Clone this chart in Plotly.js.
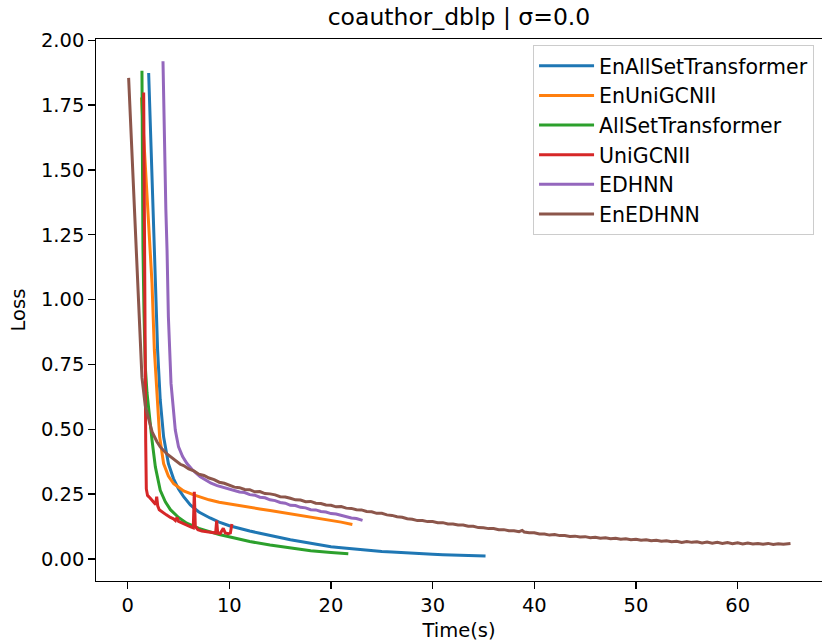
<!DOCTYPE html>
<html>
<head>
<meta charset="utf-8">
<script src="https://cdn.plot.ly/plotly-3.0.1.min.js"></script>
<style>
html,body{margin:0;padding:0;overflow:hidden;background:#fff;}
#chart{width:830px;height:642px;}
</style>
</head>
<body>
<div id="chart"></div>
<script>
var seriesNames = ["EnAllSetTransformer","EnUniGCNII","AllSetTransformer","UniGCNII","EDHNN","EnEDHNN"];
var seriesColors = ["#1f77b4","#ff7f0e","#2ca02c","#d62728","#9467bd","#8c564b"];
var yTickVals = [0,0.25,0.5,0.75,1.0,1.25,1.5,1.75,2.0];
var xTickVals = [0,10,20,30,40,50,60];

var enAllSetT = [2.06,2.35,2.65,2.72,2.94,3.2,3.53,4.0,4.5,5.0,5.5,6.16,7.0,8.1,9,10,11,12,13,14,15,16,17,18,19,20,21,22,23,24,25,26,27,28,29,30,31,32,33,34,35.2];
var enAllSetL = [1.874,1.5,1.19,1.064,0.806,0.613,0.471,0.368,0.31,0.27,0.24,0.208,0.181,0.158,0.142,0.128,0.117,0.108,0.099,0.09,0.082,0.074,0.067,0.06,0.053,0.047,0.043,0.039,0.035,0.032,0.029,0.027,0.024,0.022,0.02,0.018,0.016,0.015,0.013,0.012,0.011];

var enUniT = [1.35,1.6,1.9,2.2,2.39,2.62,2.88,3.14,3.53,4.0,4.52,5.5,6.5,8,9,10,11,12,13,14,15,16,17,18,19,20,21,22.1];
var enUniL = [1.78,1.6,1.4,1.19,1.063,0.806,0.613,0.471,0.368,0.32,0.29,0.262,0.247,0.228,0.219,0.212,0.206,0.199,0.193,0.187,0.181,0.175,0.169,0.163,0.156,0.149,0.142,0.133];

var allSetT = [1.4,1.45,1.5,1.6,1.73,1.9,2.06,2.39,2.72,3.2,3.7,4.2,5,5.8,7,8.1,9,10.4,12,14,16,18,20,21.7];
var allSetL = [1.883,1.5,1.2,0.95,0.741,0.64,0.574,0.458,0.355,0.265,0.22,0.19,0.16,0.138,0.118,0.104,0.094,0.082,0.067,0.054,0.042,0.032,0.025,0.02];

var uniT = [1.57,1.62,1.7,1.77,1.83,1.95,2.2,2.4,2.6,2.75,2.85,2.95,3.1,3.4,3.8,4.2,4.5,4.7,4.85,5.0,5.4,5.8,6.2,6.45,6.55,6.65,6.9,7.3,7.8,8.3,8.65,8.75,8.85,9.1,9.4,9.6,9.9,10.1,10.25];
var uniL = [1.799,1.3,0.8,0.45,0.27,0.245,0.235,0.226,0.215,0.21,0.24,0.205,0.19,0.18,0.17,0.16,0.155,0.148,0.16,0.145,0.137,0.13,0.124,0.12,0.259,0.125,0.113,0.108,0.104,0.101,0.1,0.148,0.1,0.098,0.118,0.1,0.097,0.1,0.135];

var edhnnT = [3.47,3.6,3.75,3.87,4.0,4.26,4.68,5.0,5.4,5.83,6.4,7.14,7.6,8.2,8.8,9.4,10,10.5,11,11.5,12,12.5,13,13.5,14,14.5,15,15.5,16,16.5,17,17.5,18,18.5,19,19.5,20,20.5,21,21.5,22,22.5,23.1];
var edhnnL = [1.919,1.6,1.35,1.19,0.934,0.677,0.497,0.432,0.395,0.368,0.342,0.317,0.306,0.292,0.283,0.276,0.268,0.265,0.258,0.256,0.248,0.246,0.238,0.236,0.228,0.225,0.218,0.215,0.207,0.206,0.199,0.197,0.19,0.189,0.183,0.181,0.175,0.173,0.167,0.164,0.158,0.156,0.149];

var enEdhnnT = [0.09,0.5,0.85,0.95,1.17,1.4,1.73,2.06,2.4,2.88,3.2,3.86,4.5,5.17,5.5,6,6.5,7,7.5,8,8.5,9,9.5,
10,10.5,11,11.5,12,12.5,13,13.5,14,14.5,15,15.5,16,16.5,17,17.5,18,18.5,19,19.5,20,20.5,21,21.5,22,22.5,23,23.5,24,24.5,25,25.5,26,26.5,27,27.5,28,28.5,29,29.5,30,30.5,31,31.5,32,32.5,33,33.5,34,34.5,35,35.5,36,36.5,37,37.5,38,38.5,38.8,39,39.5,40,40.5,41,41.5,42,42.5,43,43.5,44,44.5,45,45.5,46,46.5,47,47.5,48,48.5,49,49.5,50,50.5,51,51.5,52,52.5,53,53.5,54,54.5,55,55.5,56,56.5,57,57.5,58,58.5,59,59.5,60,60.5,61,61.5,62,62.5,63,63.5,64,64.5,65,65.2];
var enEdhnnL = [1.855,1.5,1.19,1.06,0.87,0.70,0.59,0.535,0.49,0.452,0.432,0.405,0.385,0.365,0.360,0.347,0.340,0.327,0.322,0.312,0.306,0.296,0.292,
0.286,0.277,0.275,0.268,0.267,0.259,0.260,0.252,0.251,0.247,0.240,0.239,0.234,0.228,0.227,0.221,0.222,0.215,0.214,0.208,0.207,0.201,0.202,0.196,0.195,0.190,0.189,0.183,0.182,0.176,0.176,0.170,0.168,0.163,0.161,0.155,0.153,0.148,0.148,0.144,0.144,0.140,0.140,0.135,0.135,0.131,0.131,0.126,0.126,0.121,0.120,0.117,0.117,0.113,0.113,0.109,0.109,0.105,0.110,0.104,0.101,0.101,0.096,0.096,0.092,0.094,0.090,0.090,0.087,0.088,0.085,0.086,0.082,0.084,0.080,0.082,0.078,0.080,0.076,0.078,0.074,0.076,0.072,0.074,0.070,0.072,0.068,0.070,0.066,0.068,0.064,0.067,0.064,0.066,0.062,0.065,0.061,0.064,0.060,0.063,0.059,0.062,0.058,0.061,0.058,0.060,0.057,0.060,0.056,0.059,0.057,0.058,0.060];

var xs = [enAllSetT, enUniT, allSetT, uniT, edhnnT, enEdhnnT];
var ys = [enAllSetL, enUniL, allSetL, uniL, edhnnL, enEdhnnL];

var traces = seriesNames.map(function(n,i){
  return {x: xs[i], y: ys[i], type:'scatter', mode:'lines', name:n,
          line:{color:seriesColors[i], width:3}};
});

var font = {family:'"DejaVu Sans", sans-serif', color:'#000'};
var layout = {
  width:830, height:642,
  margin:{l:96, r:8, t:39, b:61.3, pad:0},
  paper_bgcolor:'#fff', plot_bgcolor:'#fff',
  font:{family:font.family, color:'#000', size:19.5},
  title:{text:'coauthor_dblp | σ=0.0', font:{family:font.family, size:23.5, color:'#000'},
         xref:'paper', x:0.5, xanchor:'center', yref:'container', y:1-17/642, yanchor:'middle'},
  xaxis:{range:[-3.12,68.3], tickvals:xTickVals, ticktext:xTickVals.map(String),
         showgrid:false, zeroline:false, showline:true, linecolor:'#000', linewidth:1.3, mirror:true,
         ticks:'outside', ticklen:6.5, tickwidth:1.3, tickcolor:'#000',
         tickfont:{family:font.family, size:19.5, color:'#000'},
         title:{text:'Time(s)', font:{family:font.family, size:19.5, color:'#000'}, standoff:10}},
  yaxis:{range:[-0.085,2.005], tickvals:yTickVals, ticktext:yTickVals.map(function(v){return v.toFixed(2);}),
         showgrid:false, zeroline:false, showline:true, linecolor:'#000', linewidth:1.3, mirror:true,
         ticks:'outside', ticklen:6.5, tickwidth:1.3, tickcolor:'#000',
         tickfont:{family:font.family, size:19.5, color:'#000'},
         title:{text:'Loss', font:{family:font.family, size:19.5, color:'#000'}, standoff:10}},
  showlegend:true,
  legend:{x:0.602, y:0.9891, xanchor:'left', yanchor:'top', bgcolor:'rgba(255,255,255,0.8)',
          bordercolor:'#cccccc', borderwidth:1, font:{family:font.family, size:20.5, color:'#000'},
          itemwidth:55, traceorder:'normal'}
};
Plotly.newPlot('chart', traces, layout, {displayModeBar:false, staticPlot:true});
</script>
</body>
</html>
